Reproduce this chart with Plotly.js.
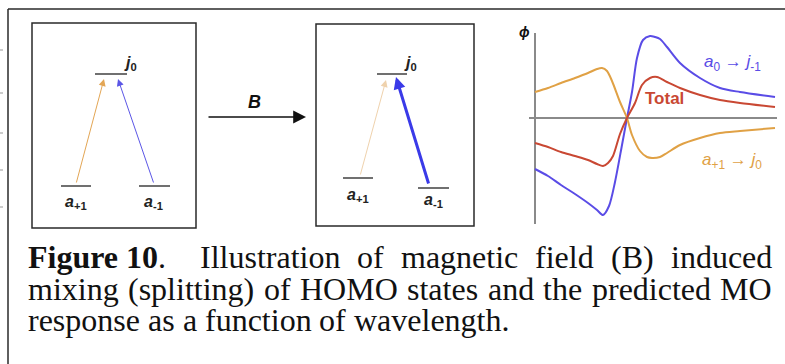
<!DOCTYPE html>
<html><head><meta charset="utf-8">
<script src="https://cdn.plot.ly/plotly-3.0.1.min.js"></script>
<style>html,body{margin:0;padding:0;background:#fff}#chart{width:785px;height:364px}</style>
</head><body><div id="chart"></div>
<script>
// ---- data (wavelength in arbitrary units, phi in arbitrary units) ----
const a0ToJm1_x   = [0, 13, 26, 40, 53, 62, 68, 74, 80, 87, 92, 97, 102, 108, 115, 120, 125, 132, 145, 165, 185, 205, 240];
const a0ToJm1_phi = [-51, -58, -67, -76, -85, -92, -97, -88, -64, -27, 0, 26, 60, 78, 82, 81, 79, 71, 55, 40, 30, 26, 21];

const ap1ToJ0_x   = [0, 13, 26, 40, 53, 62, 67, 72, 77, 85, 92, 97, 105, 112, 117, 125, 132, 145, 165, 185, 205, 240];
const ap1ToJ0_phi = [26, 30, 35, 40, 45, 49, 50, 47, 37, 16, 0, -17, -33, -39, -40, -39, -35, -27, -20, -15, -13, -10];

const total_x   = [0, 13, 26, 40, 53, 62, 68, 73, 78, 85, 92, 100, 107, 115, 122, 132, 145, 165, 185, 205, 240];
const total_phi = [-25, -29, -34, -38, -42, -46, -48, -45, -38, -16, 0, 15, 33, 40, 41, 36, 30, 23, 18, 15, 11];

const seriesNames = ['a0 → j-1', 'a+1 → j0', 'Total'];

const captionLines = [
  ['<b>Figure 10</b>.', 'Illustration', 'of', 'magnetic', 'field', '(B)', 'induced'],
  ['mixing', '(splitting)', 'of', 'HOMO', 'states', 'and', 'the', 'predicted', 'MO'],
  ['response', 'as', 'a', 'function', 'of', 'wavelength.']
];

// ---- helpers ----
const W = 785, H = 364;
const px = x => x / W;
const py = y => 1 - y / H;
const BLUE = '#5a4ce6', ORANGE = '#e0a145', RED = '#c94833';

const traces = [
  {x: a0ToJm1_x, y: a0ToJm1_phi, name: seriesNames[0], mode: 'lines',
   line: {color: BLUE, width: 2, shape: 'spline', smoothing: 0.8}},
  {x: ap1ToJ0_x, y: ap1ToJ0_phi, name: seriesNames[1], mode: 'lines',
   line: {color: ORANGE, width: 2, shape: 'spline', smoothing: 0.8}},
  {x: total_x, y: total_phi, name: seriesNames[2], mode: 'lines',
   line: {color: RED, width: 2, shape: 'spline', smoothing: 0.8}}
];

function line(x0, y0, x1, y1, color, width) {
  return {type: 'line', xref: 'paper', yref: 'paper', x0: px(x0), y0: py(y0), x1: px(x1), y1: py(y1),
          line: {color: color, width: width}};
}
function rect(x0, y0, x1, y1) {
  return {type: 'rect', xref: 'paper', yref: 'paper', x0: px(x0), y0: py(y0), x1: px(x1), y1: py(y1),
          line: {color: '#2a2a2a', width: 1.5}, fillcolor: 'rgba(0,0,0,0)'};
}
const LEVEL = '#707070';
const shapes = [
  line(8, 9, 785, 9, '#2a2a2a', 1.5),
  line(8, 9, 8, 364, '#2a2a2a', 1.5),
  rect(32, 23, 196, 228),
  rect(316, 24, 474, 226),
  // box 1 levels
  line(95, 74, 127, 74, LEVEL, 2),
  line(61, 186, 91, 186, LEVEL, 2),
  line(139, 186, 170, 186, LEVEL, 2),
  // box 2 levels
  line(377, 74, 407, 74, LEVEL, 2),
  line(343, 178, 373, 178, LEVEL, 2),
  line(418, 188, 449, 188, LEVEL, 2),
  // page marks left of frame
  line(0, 50, 3, 50, '#999', 1), line(0, 93, 3, 93, '#999', 1), line(0, 133, 3, 133, '#999', 1),
  line(0, 170, 3, 170, '#999', 1), line(0, 207, 3, 207, '#999', 1)
];

function arrow(hx, hy, tx, ty, color, width, size) {
  return {xref: 'paper', yref: 'paper', x: px(hx), y: py(hy), ax: tx - hx, ay: ty - hy,
          text: '', showarrow: true, arrowhead: 2, arrowsize: size, arrowwidth: width,
          arrowcolor: color, standoff: 0, startstandoff: 0};
}
function label(x, y, text, size, color, opts) {
  return Object.assign({xref: 'paper', yref: 'paper', x: px(x), y: py(y), text: text, showarrow: false,
          xanchor: 'center', yanchor: 'middle',
          font: {family: 'Liberation Sans, Arial, sans-serif', size: size, color: color}}, opts || {});
}

const annotations = [
  arrow(104, 79, 76, 184, '#e3a655', 1, 1.4),
  arrow(118, 79, 154, 184, '#5b56e6', 1, 1.4),
  arrow(386, 80, 360, 176, '#efd2ad', 1, 1.4),
  arrow(396, 77, 429, 185, '#3a3ae8', 3, 0.8),
  arrow(306, 117, 207, 117, '#111', 1.6, 1.6),
  label(130, 63, '<b><i>j</i><sub>0</sub></b>', 16, '#222'),
  label(76, 202, '<b><i>a</i><sub>+1</sub></b>', 16, '#222'),
  label(153, 202, '<b><i>a</i><sub>-1</sub></b>', 16, '#222'),
  label(410, 63, '<b><i>j</i><sub>0</sub></b>', 16, '#222'),
  label(358, 195, '<b><i>a</i><sub>+1</sub></b>', 16, '#222'),
  label(433, 200, '<b><i>a</i><sub>-1</sub></b>', 16, '#222'),
  label(254, 102, '<b><i>B</i></b>', 18, '#111'),
  label(524, 32, '<b><i>ϕ</i></b>', 14, '#111'),
  label(732, 63, '<i>a</i><sub>0</sub> → <i>j</i><sub>-1</sub>', 17, BLUE),
  label(664, 99, '<b>Total</b>', 17, RED),
  label(732, 161, '<i>a</i><sub>+1</sub> → <i>j</i><sub>0</sub>', 17, ORANGE)
];

// ---- caption with justified lines ----
const CAP_FONT = 'Liberation Serif';
const CAP_SIZE = 32;
const canvas = document.createElement('canvas');
const ctx = canvas.getContext('2d');
function measureWord(w) {
  let total = 0;
  const parts = w.split(/(<b>.*?<\/b>)/).filter(s => s.length);
  parts.forEach(p => {
    const bold = p.startsWith('<b>');
    const t = p.replace(/<\/?b>/g, '');
    ctx.font = (bold ? 'bold ' : '') + CAP_SIZE + 'px "' + CAP_FONT + '"';
    total += ctx.measureText(t).width;
  });
  return total;
}
const capLeft = 27, capRight = 771;
const capYs = [257, 289, 320];
captionLines.forEach((words, li) => {
  const widths = words.map(measureWord);
  const justify = li < 2;
  const weights = words.slice(1).map((w, i) => (li === 0 && i === 0) ? 2 : 1);
  const wsum = weights.reduce((a, b) => a + b, 0);
  const free = (capRight - capLeft) - widths.reduce((a, b) => a + b, 0);
  ctx.font = CAP_SIZE + 'px "' + CAP_FONT + '"';
  const space = ctx.measureText(' ').width;
  let x = capLeft;
  words.forEach((w, i) => {
    annotations.push({xref: 'paper', yref: 'paper', x: px(x - 1), y: py(capYs[li]), text: w,
      showarrow: false, xanchor: 'left', yanchor: 'middle',
      font: {family: CAP_FONT + ', Times New Roman, serif', size: CAP_SIZE, color: '#111'}});
    if (i < words.length - 1) {
      const gap = justify ? free * weights[i] / wsum : space;
      x += widths[i] + gap;
    }
  });
});

const axisCommon = {showgrid: false, showticklabels: false, ticks: '', showline: false,
                    zeroline: true, zerolinecolor: '#8a8a8a', zerolinewidth: 1.5, fixedrange: true};

const layout = {
  width: W, height: H,
  margin: {l: 0, r: 0, t: 0, b: 0},
  paper_bgcolor: '#ffffff', plot_bgcolor: 'rgba(0,0,0,0)',
  showlegend: false,
  xaxis: Object.assign({domain: [px(529), px(777)], range: [-6, 242]}, axisCommon),
  yaxis: Object.assign({domain: [py(224), py(33)], range: [-106, 85]}, axisCommon),
  shapes: shapes,
  annotations: annotations
};

Plotly.newPlot('chart', traces, layout, {displayModeBar: false, staticPlot: true});
</script>
</body></html>
